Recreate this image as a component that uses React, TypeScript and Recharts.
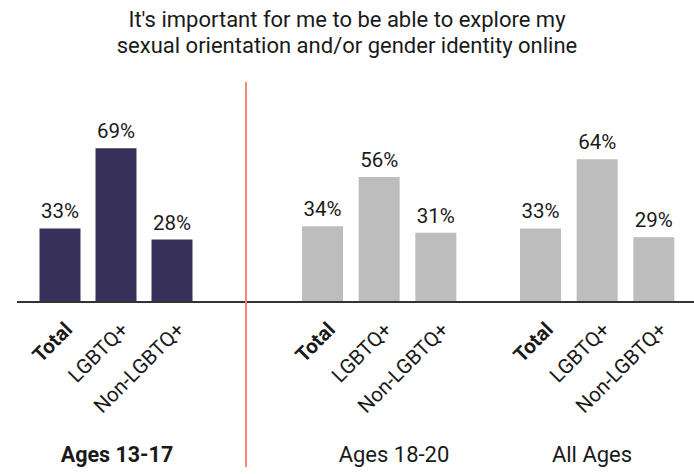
import React from "react";
import { BarChart, Bar, XAxis, YAxis, LabelList } from "recharts";

const titleLines = [
  "It's important for me to be able to explore my",
  "sexual orientation and/or gender identity online",
];
const categories = ["Total", "LGBTQ+", "Non-LGBTQ+"];
const groupNames = ["Ages 13-17", "Ages 18-20", "All Ages"];
const ages13to17 = [33, 69, 28];
const ages18to20 = [34, 56, 31];
const allAges = [33, 64, 29];

const FONT = "Roboto, 'Liberation Sans', sans-serif";
const NAVY = "#36305A";
const GRAY = "#BDBDBD";
const CORAL = "#F7866A";
const TEXT = "#1a1a1a";

const toRows = (values: number[]) =>
  categories.map((c, i) => ({ category: c, value: values[i] }));

const panels = [
  { name: groupNames[0], values: ages13to17, color: NAVY, bold: true, left: 17, width: 229, padL: 14.5, padR: 46.5, labelCx: 117 },
  { name: groupNames[1], values: ages18to20, color: GRAY, bold: false, left: 246, width: 242, padL: 48, padR: 24, labelCx: 394 },
  { name: groupNames[2], values: allAges, color: GRAY, bold: false, left: 488, width: 206, padL: 24, padR: 12, labelCx: 592 },
];

const Tick = (props: any) => {
  const { x, y, payload } = props;
  const bold = payload.value === "Total";
  return (
    <g transform={`translate(${x + 14},${y + 29})`}>
      <text
        transform="rotate(-45)"
        textAnchor="end"
        fontSize={20.5}
        fontWeight={bold ? 700 : 400}
        fontFamily={FONT}
        fill={TEXT}
      >
        {payload.value}
      </text>
    </g>
  );
};

const CHART_H = 474;

export default function App() {
  return (
    <div
      style={{
        position: "absolute",
        left: 0,
        top: 0,
        width: 694,
        height: 474,
        background: "#fff",
        fontFamily: FONT,
        overflow: "hidden",
      }}
    >
      <div
        style={{
          position: "absolute",
          left: 0,
          top: 7,
          width: 694,
          textAlign: "center",
          fontSize: 22,
          lineHeight: "26px",
          color: TEXT,
        }}
      >
        {titleLines.map((t) => (
          <div key={t}>{t}</div>
        ))}
      </div>
      {panels.map((p) => (
        <div key={p.name} style={{ position: "absolute", left: p.left, top: 0 }}>
          <BarChart
            width={p.width}
            height={CHART_H}
            data={toRows(p.values)}
            margin={{ top: 79, right: 0, bottom: 0, left: 0 }}
          >
            <YAxis hide domain={[0, 100]} />
            <XAxis
              dataKey="category"
              interval={0}
              height={172}
              tickLine={false}
              tickSize={0}
              tickMargin={0}
              axisLine={{ stroke: "#333", strokeWidth: 2 }}
              padding={{ left: p.padL, right: p.padR }}
              tick={<Tick />}
            />
            <Bar dataKey="value" fill={p.color} barSize={41} isAnimationActive={false}>
              <LabelList
                dataKey="value"
                position="top"
                offset={10}
                formatter={(v: any) => `${v}%`}
                style={{ fontSize: 20.5, fontFamily: FONT, fill: TEXT }}
              />
            </Bar>
          </BarChart>
        </div>
      ))}
      {panels.map((p) => (
        <div
          key={p.name + "-label"}
          style={{
            position: "absolute",
            left: p.labelCx - 90,
            width: 180,
            top: 442,
            textAlign: "center",
            fontSize: p.bold ? 21.5 : 22,
            lineHeight: "normal",
            fontWeight: p.bold ? 700 : 400,
            color: TEXT,
          }}
        >
          {p.name}
        </div>
      ))}
      <div
        style={{
          position: "absolute",
          left: 245,
          top: 82,
          width: 2,
          height: 385,
          background: CORAL,
        }}
      />
    </div>
  );
}
